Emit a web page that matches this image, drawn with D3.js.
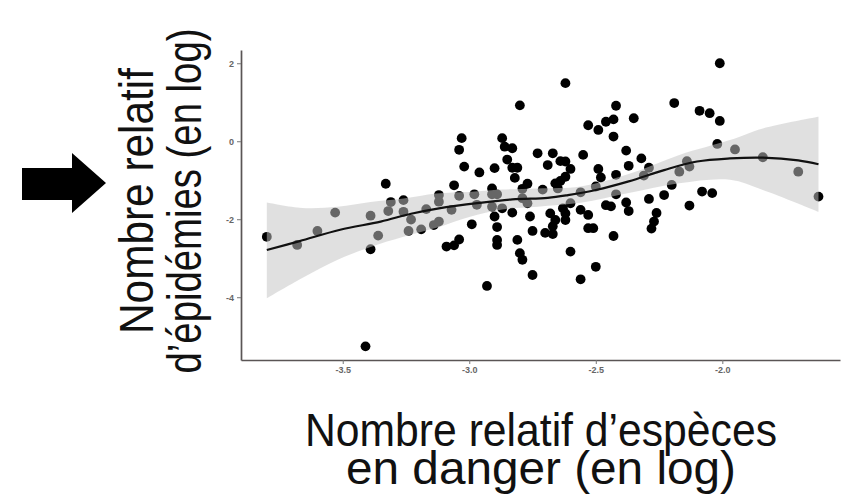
<!DOCTYPE html>
<html>
<head>
<meta charset="utf-8">
<script src="https://cdn.jsdelivr.net/npm/d3@7"></script>
<style>
  html, body { margin: 0; padding: 0; background: #fff; }
  svg { display: block; }
</style>
</head>
<body>
<div id="chart"></div>
<script>
// points: endangered species (log) vs epidemics (log)
const xValues = [
  -3.80, -3.68, -3.60, -3.53, -3.41, -3.39, -3.39, -3.36, -3.33, -3.31,
  -3.32, -3.26, -3.26, -3.23, -3.24, -3.19, -3.17, -3.14, -3.12, -3.12,
  -3.12, -3.06, -3.07, -3.04, -3.04, -3.03, -3.02, -2.99, -2.98, -2.97,
  -2.96, -3.09, -3.06, -3.04, -2.93, -2.91, -2.91, -2.90, -2.89, -2.91,
  -2.87, -2.90, -2.89, -2.89, -2.89, -2.87, -2.86, -2.83, -2.85, -2.83,
  -2.81, -2.82, -2.80, -2.83, -2.81, -2.80, -2.79, -2.77, -2.79, -2.79,
  -2.77, -2.76, -2.75, -2.75, -2.73, -2.71, -2.70, -2.69, -2.67, -2.68,
  -2.66, -2.67, -2.67, -2.66, -2.65, -2.64, -2.62, -2.63, -2.62, -2.62,
  -2.62, -2.62, -2.64, -2.60, -2.60, -2.60, -2.56, -2.56, -2.53, -2.51,
  -2.53, -2.56, -2.55, -2.53, -2.49, -2.50, -2.49, -2.48, -2.50, -2.46,
  -2.44, -2.46, -2.43, -2.43, -2.43, -2.42, -2.42, -2.42, -2.38, -2.38,
  -2.37, -2.37, -2.35, -2.32, -2.29, -2.31, -2.29, -2.26, -2.27, -2.28,
  -2.23, -2.20, -2.19, -2.17, -2.14, -2.13, -2.13, -2.09, -2.05, -2.08,
  -2.04, -2.01, -2.02, -2.01, -1.95, -1.84, -1.70, -1.62
];
const yValues = [
  -2.45, -2.66, -2.30, -1.83, -5.26, -1.91, -2.77, -2.42, -1.09, -1.56,
  -1.79, -1.51, -1.81, -2.01, -2.30, -2.26, -1.74, -2.15, -2.06, -1.38,
  -1.55, -1.13, -1.76, -1.40, -0.22, 0.08, -0.65, -2.13, -1.36, -1.63,
  -0.80, -2.70, -2.67, -2.52, -3.71, -1.36, -1.21, -0.69, -1.36, -1.68,
  -1.72, -1.93, -2.20, -2.53, -2.66, 0.08, -0.14, -0.18, -0.47, -0.68,
  -0.68, -0.94, 0.92, -1.83, -2.53, -2.87, -3.04, -1.09, -1.22, -1.46,
  -1.59, -1.93, -2.30, -3.43, -0.31, -1.24, -2.35, -0.61, -0.31, -1.85,
  -2.02, -2.18, -2.38, -1.08, -1.21, -0.51, -0.52, -1.72, -1.85, -2.02,
  1.49, -0.91, -1.02, -2.83, -1.59, -0.71, -1.31, -1.76, -2.23, -2.23,
  -1.89, -3.54, -0.35, 0.41, 0.29, -1.16, -0.71, -0.93, -3.22, -1.64,
  -1.67, 0.50, 0.56, 0.12, -2.43, -0.86, -1.36, 0.91, -0.24, -1.57,
  -1.79, -0.63, 0.59, -0.44, -0.68, -0.88, -1.48, -1.84, -2.06, -2.24,
  -1.38, -1.12, 0.98, -0.78, -0.51, -0.65, -1.65, 0.78, 0.72, -1.29,
  -1.33, 0.52, -0.07, 2.00, -0.21, -0.41, -0.78, -1.42
];

// loess fit line
const smoothX = [-3.80, -3.67, -3.51, -3.35, -3.23, -3.12, -2.96, -2.83, -2.69, -2.61,
  -2.50, -2.37, -2.23, -2.10, -1.97, -1.84, -1.70, -1.62];
const smoothY = [-2.79, -2.56, -2.27, -2.06, -1.86, -1.72, -1.58, -1.49, -1.45, -1.38,
  -1.25, -1.03, -0.74, -0.52, -0.44, -0.42, -0.49, -0.59];

// confidence band
const bandX = [-3.80, -3.66, -3.52, -3.39, -3.26, -3.13, -3.00, -2.87, -2.73, -2.56,
  -2.37, -2.17, -1.97, -1.84, -1.62];
const bandLower = [-4.03, -3.51, -3.04, -2.71, -2.45, -2.22, -1.94, -1.75, -1.68, -1.58,
  -1.33, -1.08, -0.99, -1.25, -1.81];
const bandUpper = [-1.57, -1.71, -1.68, -1.56, -1.47, -1.34, -1.30, -1.24, -1.21, -1.16,
  -0.84, -0.35, 0.03, 0.33, 0.63];

const xTicks = [-3.5, -3.0, -2.5, -2.0];
const xTickLabels = ['-3.5', '-3.0', '-2.5', '-2.0'];
const yTicks = [2, 0, -2, -4];
const yTickLabels = ['2', '0', '-2', '-4'];

const yTitle = ['Nombre relatif', 'd\u2019épidémies (en log)'];
const xTitle = ['Nombre relatif d\u2019espèces', 'en danger (en log)'];

const width = 852;
const height = 498;

const panelLeft = 241;
const panelRight = 840;
const panelTop = 50;
const panelBottom = 360;

const svg = d3
  .select('#chart')
  .append('svg')
  .attr('width', width)
  .attr('height', height)
  .style('font-family', "'Liberation Sans', Arial, sans-serif");

svg.append('rect').attr('width', width).attr('height', height).attr('fill', '#fff');

const xScale = d3.scaleLinear().domain([-3.902, -1.535]).range([panelLeft, panelRight]);
const yScale = d3.scaleLinear().domain([-5.61, 2.34]).range([panelBottom, panelTop]);

// points go below the band so the band greys them out
const points = d3.zip(xValues, yValues);
svg
  .append('g')
  .selectAll('circle')
  .data(points)
  .join('circle')
  .attr('cx', (d) => xScale(d[0]))
  .attr('cy', (d) => yScale(d[1]))
  .attr('r', 4.9)
  .attr('fill', '#000');

const band = d3.zip(bandX, bandLower, bandUpper);
const area = d3
  .area()
  .x((d) => xScale(d[0]))
  .y0((d) => yScale(d[1]))
  .y1((d) => yScale(d[2]))
  .curve(d3.curveCatmullRom);

svg
  .append('path')
  .datum(band)
  .attr('d', area)
  .attr('fill', '#c4c4c4')
  .attr('fill-opacity', 0.52);

const line = d3
  .line()
  .x((d) => xScale(d[0]))
  .y((d) => yScale(d[1]))
  .curve(d3.curveCatmullRom);

svg
  .append('path')
  .datum(d3.zip(smoothX, smoothY))
  .attr('d', line)
  .attr('fill', 'none')
  .attr('stroke', '#111')
  .attr('stroke-width', 2.2);

// axes
const xAxis = d3
  .axisBottom(xScale)
  .tickValues(xTicks)
  .tickFormat((d, i) => xTickLabels[i])
  .tickSize(4)
  .tickSizeOuter(0)
  .tickPadding(3);

const yAxis = d3
  .axisLeft(yScale)
  .tickValues(yTicks)
  .tickFormat((d, i) => yTickLabels[i])
  .tickSize(4)
  .tickSizeOuter(0)
  .tickPadding(3);

const gx = svg.append('g').attr('transform', `translate(0, ${panelBottom})`).call(xAxis);
const gy = svg.append('g').attr('transform', `translate(${panelLeft}, 0)`).call(yAxis);

[gx, gy].forEach((g) => {
  g.select('.domain').attr('stroke', '#5a5555').attr('stroke-width', 1.7);
  g.selectAll('.tick line').attr('stroke', '#777').attr('stroke-width', 1);
  g.selectAll('.tick text')
    .attr('fill', '#666')
    .style('font-size', '9px')
    .style('font-weight', 'bold')
    .style('font-family', "'Liberation Sans', Arial, sans-serif");
});

// y title (two rotated lines)
const yTitleBase = [153, 201];
const yTitleLen = [266, 345];
yTitle.forEach((t, i) => {
  svg
    .append('text')
    .attr('transform', `translate(${yTitleBase[i]}, 201) rotate(-90)`)
    .attr('text-anchor', 'middle')
    .attr('textLength', yTitleLen[i])
    .attr('lengthAdjust', 'spacingAndGlyphs')
    .style('font-size', '49px')
    .attr('fill', '#111')
    .text(t);
});

// x title
const xTitleBase = [446, 484];
const xTitleLen = [472, 390];
xTitle.forEach((t, i) => {
  svg
    .append('text')
    .attr('x', 541)
    .attr('y', xTitleBase[i])
    .attr('text-anchor', 'middle')
    .attr('textLength', xTitleLen[i])
    .attr('lengthAdjust', 'spacingAndGlyphs')
    .style('font-size', '47px')
    .attr('fill', '#111')
    .text(t);
});

// pointer arrow next to the y title
svg
  .append('path')
  .attr('d', 'M22,168 L72,168 L72,153 L106,183 L72,213 L72,200 L22,200 Z')
  .attr('fill', '#000');
</script>
</body>
</html>
